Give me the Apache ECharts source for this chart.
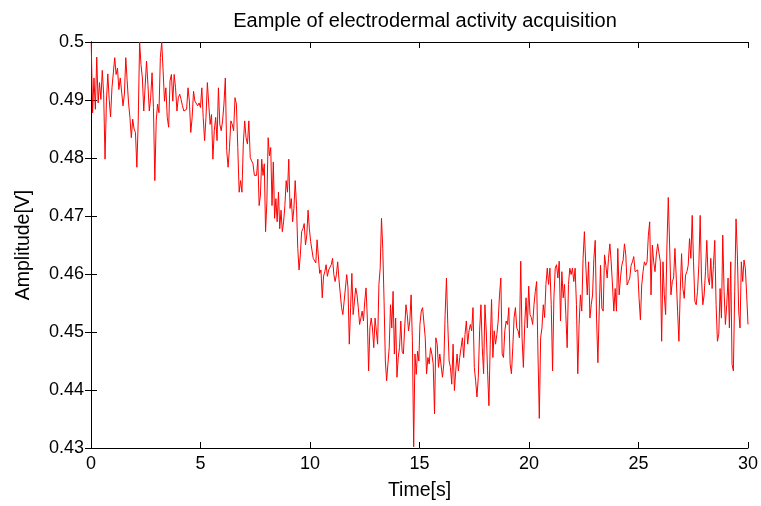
<!DOCTYPE html>
<html>
    <head>
        <meta charset="utf-8">
        <script src="https://cdn.jsdelivr.net/npm/echarts@6/dist/echarts.min.js"></script>
        <style>
            html, body {
                margin: 0;
                padding: 0;
                background: #fff;
            }
            #main {
                width: 761px;
                height: 506px;
            }
        </style>
    </head>
    <body>
        <div id="main"></div>

        <script>

            // amplitude readings [V], four stretches of the recording
            var segA = [
                0.4998, 0.4878, 0.4938, 0.4884, 0.4974, 0.4895, 0.4930, 0.4901, 0.4951, 0.4910,
                0.4798, 0.4898, 0.4945, 0.4901, 0.4871, 0.4921, 0.4918, 0.4973, 0.4944, 0.4955,
                0.4918, 0.4938, 0.4935, 0.4890, 0.4910, 0.4973, 0.4933, 0.4895, 0.4870, 0.4835,
                0.4867, 0.4850, 0.4844, 0.4784, 0.4864, 0.5000, 0.4961, 0.4938, 0.4881, 0.4924,
                0.4967, 0.4927, 0.4881, 0.4904, 0.4947, 0.4887, 0.4761, 0.4864, 0.4893, 0.4878,
                0.4973, 0.5000, 0.4950, 0.4898, 0.4921, 0.4870, 0.4853, 0.4933, 0.4944, 0.4898,
                0.4944, 0.4921, 0.4881, 0.4904, 0.4910, 0.4901, 0.4890, 0.4881, 0.4878, 0.4884,
                0.4921, 0.4898, 0.4844, 0.4870, 0.4915, 0.4898, 0.4901, 0.4890, 0.4895, 0.4887,
                0.4921, 0.4870, 0.4830, 0.4870, 0.4930, 0.4893, 0.4858, 0.4875, 0.4798, 0.4847,
                0.4870, 0.4830, 0.4921, 0.4858, 0.4847, 0.4864, 0.4893, 0.4938, 0.4813, 0.4784,
                0.4818, 0.4864, 0.4858, 0.4847, 0.4904, 0.4893, 0.4818, 0.4741, 0.4761, 0.4741,
                0.4824, 0.4864, 0.4835, 0.4824, 0.4864, 0.4801, 0.4795, 0.4790, 0.4770
            ];
            var segB = [
                0.4770, 0.4798, 0.4718, 0.4736, 0.4798, 0.4770, 0.4790, 0.4673, 0.4724, 0.4835,
                0.4804, 0.4818, 0.4718, 0.4793, 0.4696, 0.4730, 0.4690, 0.4741, 0.4678, 0.4710,
                0.4673, 0.4690, 0.4718, 0.4761, 0.4741, 0.4798, 0.4713, 0.4730, 0.4690, 0.4713,
                0.4761, 0.4718, 0.4644, 0.4607, 0.4633, 0.4673, 0.4678, 0.4687, 0.4650, 0.4667,
                0.4710, 0.4678, 0.4656, 0.4656, 0.4627, 0.4627, 0.4619, 0.4659, 0.4656, 0.4601,
                0.4607, 0.4559, 0.4596, 0.4604, 0.4616, 0.4596, 0.4607, 0.4607, 0.4616, 0.4627,
                0.4599, 0.4587, 0.4599, 0.4621, 0.4590, 0.4587, 0.4542, 0.4530, 0.4553, 0.4576,
                0.4599, 0.4576, 0.4479, 0.4542, 0.4601, 0.4530, 0.4553, 0.4576, 0.4564, 0.4542,
                0.4513, 0.4524, 0.4536, 0.4519, 0.4553, 0.4576, 0.4524, 0.4433, 0.4507, 0.4524,
                0.4507, 0.4473, 0.4524, 0.4502, 0.4479, 0.4582, 0.4610, 0.4696, 0.4644, 0.4553,
                0.4450, 0.4416, 0.4445, 0.4473, 0.4547, 0.4507, 0.4570, 0.4462, 0.4524, 0.4422,
                0.4456, 0.4473, 0.4519, 0.4467, 0.4462, 0.4507, 0.4547, 0.4530, 0.4502, 0.4519,
                0.4564, 0.4485, 0.4302, 0.4462, 0.4427, 0.4467, 0.4450
            ];
            var segC = [
                0.4513, 0.4536, 0.4542, 0.4542, 0.4490, 0.4428, 0.4456, 0.4445, 0.4473, 0.4462,
                0.4445, 0.4359, 0.4490, 0.4479, 0.4439, 0.4462, 0.4459, 0.4422, 0.4445, 0.4530,
                0.4593, 0.4513, 0.4450, 0.4439, 0.4410, 0.4479, 0.4399, 0.4433, 0.4462, 0.4433,
                0.4456, 0.4473, 0.4490, 0.4456, 0.4496, 0.4519, 0.4479, 0.4502, 0.4513, 0.4502,
                0.4542, 0.4439, 0.4416, 0.4388, 0.4422, 0.4502, 0.4547, 0.4473, 0.4428, 0.4547,
                0.4502, 0.4433, 0.4373, 0.4479, 0.4556, 0.4456, 0.4502, 0.4479, 0.4496, 0.4519,
                0.4564, 0.4593, 0.4462, 0.4456, 0.4502, 0.4519, 0.4513, 0.4542, 0.4445, 0.4428,
                0.4473, 0.4525, 0.4542, 0.4507, 0.4502, 0.4490, 0.4622, 0.4490, 0.4439, 0.4513,
                0.4559, 0.4507, 0.4579, 0.4530, 0.4525, 0.4513, 0.4547, 0.4570, 0.4587, 0.4462,
                0.4351, 0.4490, 0.4507, 0.4547, 0.4525, 0.4582, 0.4610, 0.4582, 0.4610, 0.4547,
                0.4433, 0.4559, 0.4610, 0.4616, 0.4593, 0.4622, 0.4519, 0.4604, 0.4559, 0.4582,
                0.4530, 0.4473, 0.4582, 0.4610, 0.4599, 0.4610, 0.4587, 0.4610, 0.4547, 0.4428,
                0.4513, 0.4564, 0.4536, 0.4627, 0.4673
            ];
            var segD = [
                0.4610, 0.4564, 0.4621, 0.4524, 0.4547, 0.4564, 0.4627, 0.4658, 0.4524, 0.4447,
                0.4536, 0.4615, 0.4541, 0.4536, 0.4633, 0.4615, 0.4593, 0.4627, 0.4652, 0.4621,
                0.4581, 0.4536, 0.4575, 0.4536, 0.4644, 0.4564, 0.4593, 0.4615, 0.4624, 0.4652,
                0.4633, 0.4581, 0.4587, 0.4593, 0.4615, 0.4621, 0.4630, 0.4604, 0.4601, 0.4607,
                0.4558, 0.4521, 0.4581, 0.4604, 0.4621, 0.4615, 0.4621, 0.4667, 0.4690, 0.4564,
                0.4650, 0.4621, 0.4604, 0.4633, 0.4652, 0.4650, 0.4621, 0.4484, 0.4621, 0.4564,
                0.4530, 0.4650, 0.4732, 0.4650, 0.4564, 0.4587, 0.4593, 0.4644, 0.4593, 0.4536,
                0.4484, 0.4570, 0.4635, 0.4575, 0.4558, 0.4598, 0.4604, 0.4615, 0.4661, 0.4627,
                0.4701, 0.4621, 0.4553, 0.4547, 0.4570, 0.4615, 0.4701, 0.4593, 0.4547, 0.4564,
                0.4604, 0.4658, 0.4593, 0.4581, 0.4627, 0.4575, 0.4615, 0.4658, 0.4547, 0.4484,
                0.4496, 0.4575, 0.4524, 0.4667, 0.4570, 0.4513, 0.4547, 0.4593, 0.4507, 0.4621,
                0.4444, 0.4433, 0.4570, 0.4695, 0.4633, 0.4536, 0.4507, 0.4621, 0.4587, 0.4624,
                0.4610, 0.4564, 0.4513
            ];
            // time span [s] covered by each stretch (samples evenly spaced inside it)
            var spanA = [0.01, 7.46];
            var spanB = [7.56, 14.97];
            var spanC = [15.02, 22.53];
            var spanD = [22.60, 30.0];

            var xTicks = [0, 5, 10, 15, 20, 25, 30];
            var yTicks = [0.43, 0.44, 0.45, 0.46, 0.47, 0.48, 0.49, 0.5];

            var data = [];
            var addSegment = function (values, span) {
                var step = (span[1] - span[0]) / (values.length - 1);
                for (var i = 0; i < values.length; i++) {
                    data.push([span[0] + i * step, values[i]]);
                }
            };
            addSegment(segA, spanA);
            addSegment(segB, spanB);
            addSegment(segC, spanC);
            addSegment(segD, spanD);

            var font = 'Liberation Sans';
            var frameLine = {show: true, lineStyle: {color: '#000', width: 1}};
            var innerTick = {show: true, inside: true, length: 6, lineStyle: {color: '#000', width: 1}};

            var chart = echarts.init(document.getElementById('main'));

            chart.setOption({
                animation: false,
                backgroundColor: '#fff',
                textStyle: {fontFamily: font},
                title: {
                    text: 'Eample of electrodermal activity acquisition',
                    left: 420,
                    top: 6,
                    textAlign: 'center',
                    textStyle: {
                        fontFamily: font,
                        fontSize: 20,
                        fontWeight: 'normal',
                        color: '#000'
                    }
                },
                grid: {
                    left: 91,
                    right: 12,
                    top: 42,
                    bottom: 55,
                    containLabel: false
                },
                xAxis: [{
                    type: 'value',
                    min: xTicks[0],
                    max: xTicks[xTicks.length - 1],
                    interval: 5,
                    name: 'Time[s]',
                    nameLocation: 'middle',
                    nameGap: 33,
                    nameTextStyle: {fontFamily: font, fontSize: 19.5, color: '#000'},
                    axisLine: {show: true, onZero: false, lineStyle: {color: '#000', width: 1}},
                    axisTick: innerTick,
                    axisLabel: {fontFamily: font, fontSize: 18, color: '#000', margin: 7},
                    splitLine: {show: false}
                }, {
                    type: 'value',
                    position: 'top',
                    min: xTicks[0],
                    max: xTicks[xTicks.length - 1],
                    interval: 5,
                    axisLine: frameLine,
                    axisTick: innerTick,
                    axisLabel: {show: false},
                    splitLine: {show: false}
                }],
                yAxis: [{
                    type: 'value',
                    min: yTicks[0],
                    max: yTicks[yTicks.length - 1],
                    interval: 0.01,
                    name: 'Amplitude[V]',
                    nameLocation: 'middle',
                    nameGap: 57,
                    nameTextStyle: {fontFamily: font, fontSize: 19.5, color: '#000'},
                    axisLine: {show: true, onZero: false, lineStyle: {color: '#000', width: 1}},
                    axisTick: innerTick,
                    axisLabel: {
                        fontFamily: font,
                        fontSize: 18,
                        color: '#000',
                        margin: 7,
                        formatter: function (v) {
                            return String(Math.round(v * 100) / 100);
                        }
                    },
                    splitLine: {show: false}
                }, {
                    type: 'value',
                    position: 'right',
                    min: yTicks[0],
                    max: yTicks[yTicks.length - 1],
                    interval: 0.01,
                    axisLine: frameLine,
                    axisTick: innerTick,
                    axisLabel: {show: false},
                    splitLine: {show: false}
                }],
                series: [{
                    type: 'line',
                    data: data,
                    showSymbol: false,
                    symbol: 'none',
                    lineStyle: {color: '#ff0000', width: 1},
                    itemStyle: {color: '#ff0000'},
                    clip: true
                }]
            });

        </script>
    </body>
</html>
